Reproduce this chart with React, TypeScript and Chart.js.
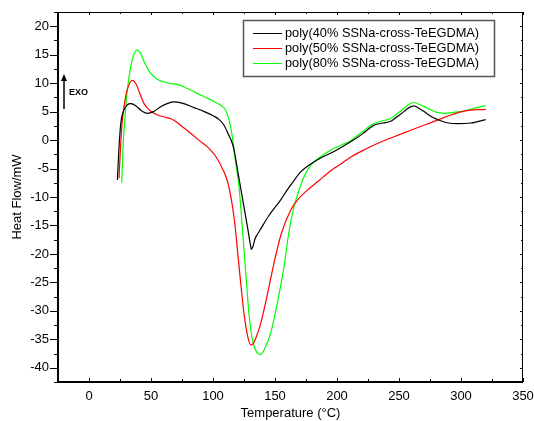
import React, { useEffect, useRef } from "react";
import { Chart, registerables } from "chart.js";

Chart.register(...registerables);

const FONT = "'Liberation Sans', Arial, sans-serif";

const seriesLabels = [
  "poly(40% SSNa-cross-TeEGDMA)",
  "poly(50% SSNa-cross-TeEGDMA)",
  "poly(80% SSNa-cross-TeEGDMA)",
];
const seriesColors = ["#000000", "#ff0000", "#00ff00"];

const temp40 = [22.9, 24, 25.6, 28, 31, 33.6, 38, 42, 47, 52, 58, 64, 68.5, 75, 84.7, 93, 100.8, 105, 108.9, 112, 115.6, 117, 120, 122.3, 124, 126, 128, 130, 131, 132, 134, 136, 138.5, 145, 154.6, 160, 165, 170.7, 178.8, 188, 197.6, 211, 220, 229.8, 237, 243.3, 249, 254, 258, 262, 266, 270.2, 277, 283.6, 290, 297, 307.8, 319.9];
const heat40 = [-7.0, -2, 2.9, 5.2, 6.2, 6.4, 6.0, 5.2, 4.7, 5.0, 5.9, 6.5, 6.7, 6.5, 5.7, 5.0, 4.2, 3.6, 2.6, 1.2, -0.6, -1.75, -5.5, -8.4, -10.5, -13, -15.5, -18.2, -19.2, -18.8, -17.3, -16.5, -15.6, -13.3, -10.5, -8.7, -7.2, -5.6, -4.2, -3.0, -2.0, -0.3, 1.0, 2.6, 3.0, 3.3, 4.2, 5.0, 5.7, 6.0, 5.6, 5.0, 4.0, 3.4, 3.0, 2.9, 3.0, 3.6];

const temp50 = [24.2, 25.5, 26.9, 29, 31.5, 35, 38, 41, 44.4, 49, 55.2, 62, 68.5, 75, 82, 89, 95.5, 102, 108.9, 112, 115.6, 118, 120, 122.3, 125, 128, 130.4, 132.5, 135, 138.5, 143, 149.2, 155, 162.7, 169, 176.1, 185, 194.9, 203, 211, 222, 232.6, 245, 256.8, 270, 281, 292, 302.4, 320];
const heat50 = [-6.7, -1, 3.5, 7, 9.3, 10.5, 9.8, 8.2, 6.4, 5.2, 4.4, 4.0, 3.5, 2.4, 1.2, -0.1, -1.2, -2.8, -5.6, -7.5, -11.5, -15.5, -20, -25, -30.5, -34.5, -36, -35.7, -34.5, -32.2, -28, -21.6, -16.5, -12.3, -10.3, -8.8, -7.2, -5.4, -4.2, -3.0, -1.7, -0.6, 0.5, 1.5, 2.6, 3.5, 4.4, 5.1, 5.4];

const temp80 = [26.4, 27.5, 29, 30.5, 32.3, 35, 38.5, 41, 45, 49.8, 55, 60.5, 66, 71.3, 78, 87.4, 97, 106.2, 110.2, 113, 115.6, 118, 121, 123, 125, 127, 129, 131.8, 135, 138.5, 142, 146.5, 152, 157.3, 161, 165.3, 169.4, 174, 178.8, 187, 195, 203, 211, 220, 229.8, 237, 243.3, 249, 254, 258, 262, 267, 272.9, 280, 286.3, 295, 302.4, 311, 319.9];
const heat80 = [-7.5, -1, 4, 8, 11.1, 14.2, 15.8, 15.5, 13.5, 11.7, 10.7, 10.2, 9.9, 9.8, 9.2, 8.2, 7.2, 6.1, 5.3, 3.5, 0.6, -3.5, -8.2, -13.5, -19.3, -25, -30.5, -35.1, -37.2, -37.7, -36.5, -33.9, -28.5, -22.2, -16.5, -11.7, -8.8, -6.2, -4.4, -2.9, -1.75, -0.9, -0.1, 1.4, 2.9, 3.4, 3.8, 4.7, 5.6, 6.3, 6.6, 6.2, 5.6, 4.9, 4.7, 4.9, 5.1, 5.6, 6.1];

const xTicks = [0, 50, 100, 150, 200, 250, 300, 350];
const yTicks = [-40, -35, -30, -25, -20, -15, -10, -5, 0, 5, 10, 15, 20];
const xMinorTicks = [-25, 25, 75, 125, 175, 225, 275, 325];
const yMinorTicks = [-42.5, -37.5, -32.5, -27.5, -22.5, -17.5, -12.5, -7.5, -2.5, 2.5, 7.5, 12.5, 17.5, 22.5];

const framePlugin = {
  id: "framePlugin",
  afterDraw(chart: any) {
    const ctx = chart.ctx;
    const { left, right, top, bottom } = chart.chartArea;
    const xs = chart.scales.x;
    const ys = chart.scales.y;
    ctx.save();
    ctx.strokeStyle = "#000";
    ctx.lineWidth = 1;
    ctx.beginPath();
    yTicks.forEach((v) => {
      const y = Math.round(ys.getPixelForValue(v)) + 0.5;
      ctx.moveTo(left - 8, y); ctx.lineTo(left, y);
      ctx.moveTo(right, y); ctx.lineTo(right - 3, y);
    });
    yMinorTicks.forEach((v) => {
      const y = Math.round(ys.getPixelForValue(v)) + 0.5;
      ctx.moveTo(left - 4, y); ctx.lineTo(left, y);
      ctx.moveTo(right, y); ctx.lineTo(right - 2, y);
    });
    xTicks.forEach((v) => {
      const x = Math.round(xs.getPixelForValue(v)) + 0.5;
      ctx.moveTo(x, bottom); ctx.lineTo(x, bottom - 4);
      ctx.moveTo(x, top); ctx.lineTo(x, top + 3);
    });
    xMinorTicks.forEach((v) => {
      const x = Math.round(xs.getPixelForValue(v)) + 0.5;
      ctx.moveTo(x, bottom); ctx.lineTo(x, bottom - 3);
      ctx.moveTo(x, top); ctx.lineTo(x, top + 2);
    });
    ctx.stroke();
    ctx.lineWidth = 1;
    ctx.beginPath();
    ctx.moveTo(left, top + 0.5); ctx.lineTo(right, top + 0.5);
    ctx.moveTo(right - 0.5, top); ctx.lineTo(right - 0.5, bottom);
    ctx.stroke();
    ctx.lineWidth = 2;
    ctx.beginPath();
    ctx.moveTo(left, top); ctx.lineTo(left, bottom);
    ctx.lineTo(right, bottom);
    ctx.stroke();

    // EXO arrow
    ctx.lineWidth = 1.5;
    ctx.beginPath();
    ctx.moveTo(64, 109); ctx.lineTo(64, 80);
    ctx.stroke();
    ctx.fillStyle = "#000";
    ctx.beginPath();
    ctx.moveTo(64, 74); ctx.lineTo(61, 81); ctx.lineTo(67, 81); ctx.closePath();
    ctx.fill();
    ctx.font = "bold 9px " + FONT;
    ctx.textBaseline = "middle";
    ctx.textAlign = "left";
    ctx.fillText("EXO", 69, 93);

    // legend
    const bx = 243.5, by = 20.5, bw = 251, bh = 56;
    ctx.fillStyle = "#fff";
    ctx.fillRect(bx, by, bw, bh);
    ctx.strokeStyle = "#555";
    ctx.lineWidth = 1.5;
    ctx.strokeRect(bx, by, bw, bh);
    ctx.font = "12.8px " + FONT;
    chart.data.datasets.forEach((ds: any, i: number) => {
      const y = 33.5 + i * 15;
      ctx.strokeStyle = ds.borderColor;
      ctx.lineWidth = 1;
      ctx.beginPath();
      ctx.moveTo(253, y); ctx.lineTo(282, y);
      ctx.stroke();
      ctx.fillStyle = "#000";
      ctx.fillText(ds.label, 285, y);
    });
    ctx.restore();
  },
};

const zeroPad = (s: any) => {
  s.paddingTop = 0;
  s.paddingBottom = 0;
  s.paddingLeft = 0;
  s.paddingRight = 0;
};

export default function App() {
  const ref = useRef<HTMLCanvasElement | null>(null);
  useEffect(() => {
    const temps = [temp40, temp50, temp80];
    const heats = [heat40, heat50, heat80];
    const chart = new Chart(ref.current as HTMLCanvasElement, {
      type: "scatter",
      data: {
        datasets: seriesLabels.map((label, i) => ({
          label,
          data: temps[i].map((t, j) => ({ x: t, y: heats[i][j] })),
          borderColor: seriesColors[i],
          backgroundColor: seriesColors[i],
          showLine: true,
          pointRadius: 0,
          borderWidth: 1.2,
          cubicInterpolationMode: "monotone" as const,
        })),
      },
      options: {
        animation: false,
        responsive: false,
        maintainAspectRatio: false,
        layout: { padding: { top: 12, right: 11, left: 0, bottom: 0 } },
        plugins: { legend: { display: false }, tooltip: { enabled: false } },
        scales: {
          x: {
            type: "linear",
            min: -25,
            max: 350,
            afterFit: (s: any) => { s.height = 39; zeroPad(s); },
            afterBuildTicks: (s: any) => { s.ticks = xTicks.map((v) => ({ value: v })); },
            grid: { display: false, drawTicks: false },
            border: { display: false },
            ticks: { color: "#000", font: { family: FONT, size: 13 }, padding: 7 },
            title: { display: true, text: "Temperature (°C)", color: "#000", font: { family: FONT, size: 13 }, padding: { top: 2, bottom: 0 } },
          },
          y: {
            type: "linear",
            min: -42.5,
            max: 22.5,
            afterFit: (s: any) => { s.width = 58; zeroPad(s); },
            afterBuildTicks: (s: any) => { s.ticks = yTicks.map((v) => ({ value: v })); },
            grid: { display: false, drawTicks: false },
            border: { display: false },
            ticks: { color: "#000", font: { family: FONT, size: 13 }, padding: 9 },
            title: { display: true, text: "Heat Flow/mW", color: "#000", font: { family: FONT, size: 13 }, padding: { top: 10, bottom: 0 } },
          },
        },
      },
      plugins: [framePlugin],
    });
    return () => chart.destroy();
  }, []);
  return (
    <div style={{ position: "fixed", left: 0, top: 0, width: 534, height: 421, background: "#fff" }}>
      <canvas ref={ref} width={534} height={421} style={{ display: "block" }} />
    </div>
  );
}
